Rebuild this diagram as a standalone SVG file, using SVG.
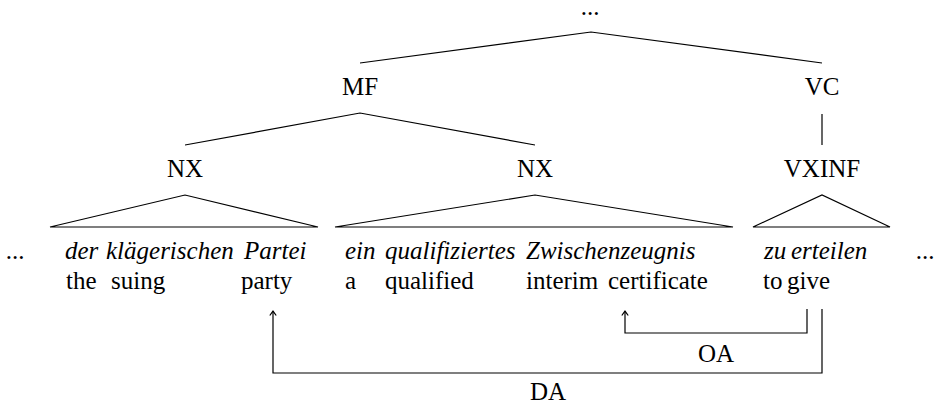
<svg xmlns="http://www.w3.org/2000/svg" width="936" height="405" viewBox="0 0 936 405">
<defs>
<style>
text{font-family:"Liberation Serif","Times New Roman",serif;font-size:25px;fill:#000}
.c{text-anchor:middle}
.i{font-style:italic}
.e{fill:none;stroke:#000;stroke-width:1.2}
</style>
<marker id="ah" markerUnits="userSpaceOnUse" markerWidth="12" markerHeight="12" viewBox="-6 -6 12 12" refX="0" refY="0" orient="auto">
<path d="M-4.5,-3.2 Q-1.5,-1 0,0 Q-1.5,1 -4.5,3.2" fill="none" stroke="#000" stroke-width="1.2"/>
</marker>
</defs>
<rect width="936" height="405" fill="#fff"/>
<g id="connectors">
<path class="e" d="M360,63 L591,32 L822,63"/>
<path class="e" d="M185,145 L360,113 L535,145"/>
<path class="e" d="M822,114 V145"/>
<path class="e" d="M50,227 L185,195 L318,227 Z"/>
<path class="e" d="M335,227 L535,195 L733,227 Z"/>
<path class="e" d="M753,227 L822,195 L890,227 Z"/>
<path class="e" d="M807,309 V333 H625 V311" marker-end="url(#ah)"/>
<path class="e" d="M822,309 V373 H273 V311" marker-end="url(#ah)"/>
<text class="c" x="716" y="362">OA</text>
<text class="c" x="548" y="400">DA</text>
</g>
<g id="root"><text class="c" x="590" y="15">...</text></g>
<g id="mf"><text class="c" x="360" y="95">MF</text></g>
<g id="vc"><text class="c" x="822" y="95">VC</text></g>
<g id="nx1">
<text class="c" x="185" y="177">NX</text>
<text class="i" x="65" y="259">der</text>
<text class="i" x="106" y="259">klägerischen</text>
<text class="i" x="244" y="259">Partei</text>
<text x="66" y="289">the</text>
<text x="111" y="289">suing</text>
<text x="241" y="289">party</text>
</g>
<g id="nx2">
<text class="c" x="535" y="177">NX</text>
<text class="i" x="345" y="259">ein</text>
<text class="i" x="385" y="259">qualifiziertes</text>
<text class="i" x="526" y="259">Zwischenzeugnis</text>
<text x="345" y="289">a</text>
<text x="385" y="289">qualified</text>
<text x="526" y="289">interim</text>
<text x="608" y="289">certificate</text>
</g>
<g id="vxinf">
<text class="c" x="822" y="177">VXINF</text>
<text class="i" x="764" y="259">zu</text>
<text class="i" x="791" y="259">erteilen</text>
<text x="763" y="289">to</text>
<text x="787" y="289">give</text>
</g>
<g id="ellipsis-left"><text class="c" x="15" y="259">...</text></g>
<g id="ellipsis-right"><text class="c" x="925" y="259">...</text></g>
</svg>
